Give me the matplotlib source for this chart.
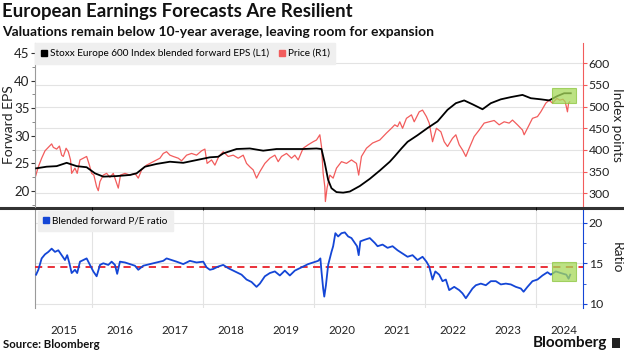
import matplotlib
matplotlib.use("Agg")
import matplotlib.pyplot as plt
from matplotlib.patches import Rectangle
from matplotlib.lines import Line2D
from matplotlib.ticker import MultipleLocator, FixedLocator, NullFormatter

plt.rcParams['font.family'] = ['Lato', 'DejaVu Sans']

# ---------------- data (decimal years) ----------------
eps_t = [2015.00, 2015.19, 2015.37, 2015.55, 2015.73, 2015.91, 2016.06, 2016.21, 2016.45, 2016.69,
         2016.81, 2016.96, 2017.17, 2017.41, 2017.65, 2017.89, 2018.13, 2018.28, 2018.37, 2018.61,
         2018.85, 2019.09, 2019.33, 2019.57, 2019.81, 2020.05, 2020.14, 2020.20, 2020.26, 2020.32,
         2020.41, 2020.53, 2020.65, 2020.83, 2021.01, 2021.19, 2021.37, 2021.46, 2021.58, 2021.69,
         2021.87, 2022.05, 2022.23, 2022.41, 2022.56, 2022.71, 2022.86, 2023.04, 2023.19, 2023.37,
         2023.55, 2023.76, 2023.91, 2024.09, 2024.24, 2024.39, 2024.51, 2024.63]
eps_v = [24.1, 24.4, 24.5, 25.1, 24.5, 24.3, 23.2, 22.6, 22.7, 22.9,
         23.2, 24.4, 24.9, 25.3, 25.1, 25.6, 26.1, 26.2, 26.8, 27.6,
         27.7, 27.3, 27.6, 27.6, 27.6, 27.7, 27.6, 25.0, 22.0, 20.5,
         19.8, 19.7, 19.9, 20.9, 22.2, 23.7, 25.3, 26.3, 27.7, 28.9,
         30.1, 31.4, 32.6, 34.7, 35.9, 36.4, 35.7, 34.8, 35.9, 36.6,
         37.0, 37.4, 36.8, 36.6, 36.4, 37.2, 37.7, 37.7]

price_t = [2014.98, 2015.04, 2015.10, 2015.16, 2015.22, 2015.28, 2015.31, 2015.37, 2015.42, 2015.46,
           2015.49, 2015.54, 2015.58, 2015.62, 2015.64, 2015.70, 2015.74, 2015.79, 2015.85, 2015.91,
           2015.96, 2016.00, 2016.04, 2016.09, 2016.12, 2016.15, 2016.21, 2016.27, 2016.33, 2016.39,
           2016.44, 2016.48, 2016.52, 2016.60, 2016.69, 2016.78, 2016.84, 2016.90, 2016.99, 2017.11,
           2017.23, 2017.29, 2017.35, 2017.41, 2017.47, 2017.56, 2017.62, 2017.71, 2017.80, 2017.89,
           2017.98, 2018.04, 2018.08, 2018.16, 2018.22, 2018.29, 2018.37, 2018.46, 2018.55, 2018.64,
           2018.73, 2018.79, 2018.85, 2018.91, 2018.97, 2019.03, 2019.12, 2019.21, 2019.30, 2019.36,
           2019.42, 2019.51, 2019.60, 2019.66, 2019.72, 2019.81, 2019.90, 2019.99, 2020.05, 2020.11,
           2020.14, 2020.17, 2020.20, 2020.21, 2020.24, 2020.29, 2020.35, 2020.41, 2020.50, 2020.59,
           2020.68, 2020.77, 2020.81, 2020.86, 2020.95, 2021.06, 2021.19, 2021.31, 2021.40, 2021.46,
           2021.51, 2021.55, 2021.60, 2021.67, 2021.76, 2021.81, 2021.90, 2021.96, 2022.03, 2022.08,
           2022.14, 2022.21, 2022.29, 2022.35, 2022.41, 2022.50, 2022.56, 2022.62, 2022.68, 2022.74,
           2022.80, 2022.89, 2022.98, 2023.07, 2023.16, 2023.25, 2023.34, 2023.43, 2023.52, 2023.58,
           2023.67, 2023.76, 2023.79, 2023.85, 2023.94, 2024.03, 2024.09, 2024.18, 2024.24, 2024.30,
           2024.38, 2024.43, 2024.49, 2024.53, 2024.57, 2024.59, 2024.61]
price_v = [335, 361, 381, 398, 406, 414, 406, 402, 409, 388,
           385, 404, 396, 377, 346, 358, 346, 377, 381, 385,
           365, 346, 342, 315, 306, 327, 342, 346, 337, 346,
           327, 312, 342, 346, 342, 346, 335, 354, 365, 373,
           381, 392, 396, 388, 385, 381, 375, 388, 392, 388,
           398, 402, 369, 377, 365, 385, 396, 385, 388, 381,
           388, 369, 361, 354, 335, 350, 369, 381, 388, 373,
           385, 392, 381, 388, 377, 404, 412, 419, 423, 435,
           408, 346, 315, 281, 312, 342, 335, 358, 373, 369,
           377, 369, 342, 385, 404, 416, 423, 439, 450, 458,
           454, 465, 450, 473, 481, 465, 488, 492, 477, 462,
           419, 450, 442, 419, 408, 427, 435, 412, 400, 385,
           404, 431, 446, 462, 465, 468, 458, 465, 462, 469,
           458, 446, 435, 450, 473, 477, 488, 508, 515, 508,
           519, 515, 517, 511, 488, 508, 511]

pe_t = [2015.00, 2015.04, 2015.10, 2015.16, 2015.22, 2015.28, 2015.34, 2015.40, 2015.46, 2015.52,
        2015.56, 2015.60, 2015.64, 2015.70, 2015.74, 2015.79, 2015.85, 2015.91, 2015.97, 2016.03,
        2016.09, 2016.15, 2016.21, 2016.30, 2016.36, 2016.42, 2016.46, 2016.51, 2016.60, 2016.69,
        2016.78, 2016.84, 2016.93, 2017.05, 2017.17, 2017.29, 2017.35, 2017.44, 2017.53, 2017.65,
        2017.77, 2017.89, 2018.01, 2018.07, 2018.13, 2018.19, 2018.28, 2018.37, 2018.46, 2018.58,
        2018.70, 2018.79, 2018.88, 2018.97, 2019.03, 2019.12, 2019.21, 2019.30, 2019.39, 2019.48,
        2019.57, 2019.66, 2019.75, 2019.81, 2019.90, 2019.99, 2020.08, 2020.12, 2020.14, 2020.17,
        2020.19, 2020.22, 2020.26, 2020.32, 2020.35, 2020.39, 2020.44, 2020.50, 2020.56, 2020.62,
        2020.68, 2020.74, 2020.78, 2020.81, 2020.84, 2020.92, 2021.01, 2021.10, 2021.15, 2021.24,
        2021.33, 2021.42, 2021.51, 2021.60, 2021.69, 2021.78, 2021.87, 2021.96, 2022.03, 2022.08,
        2022.14, 2022.19, 2022.26, 2022.32, 2022.38, 2022.44, 2022.53, 2022.62, 2022.68, 2022.74,
        2022.80, 2022.86, 2022.92, 2023.01, 2023.10, 2023.19, 2023.28, 2023.37, 2023.46, 2023.55,
        2023.64, 2023.73, 2023.78, 2023.85, 2023.94, 2024.03, 2024.12, 2024.21, 2024.27, 2024.36,
        2024.45, 2024.55, 2024.59, 2024.62]
pe_v = [13.6, 14.2, 15.6, 16.1, 16.4, 16.8, 16.4, 16.6, 16.0, 15.4,
        16.0, 15.0, 13.8, 14.2, 13.8, 15.2, 15.4, 15.6, 14.8, 14.0,
        13.4, 14.8, 15.0, 14.8, 15.2, 14.8, 13.7, 15.2, 15.1, 14.9,
        14.7, 14.2, 14.7, 14.9, 15.1, 15.3, 15.6, 15.4, 15.2, 14.9,
        15.3, 15.1, 15.2, 14.5, 14.2, 14.3, 14.6, 14.8, 14.4, 14.0,
        13.6, 13.0, 12.7, 12.1, 12.5, 13.4, 13.8, 14.0, 13.5, 14.1,
        13.5, 14.1, 14.4, 14.6, 14.9, 15.1, 15.3, 15.6, 14.0, 11.9,
        10.9, 12.3, 14.8, 16.4, 17.1, 18.7, 18.3, 18.7, 18.8, 18.3,
        18.1, 17.5, 17.1, 16.0, 17.7, 17.9, 18.1, 17.5, 17.1, 17.3,
        16.9, 17.1, 16.6, 16.2, 15.8, 16.0, 15.4, 15.8, 15.2, 14.6,
        13.0, 14.0, 13.6, 12.8, 13.0, 11.7, 12.1, 11.7, 11.3, 10.7,
        11.3, 11.9, 12.3, 12.5, 12.3, 12.8, 12.8, 12.4, 12.5, 12.4,
        12.1, 11.9, 11.5, 12.1, 12.8, 13.0, 13.5, 13.9, 13.6, 14.0,
        13.8, 13.6, 13.1, 13.6]

pe_avg = 14.5
year_labels = [str(y) for y in range(2015, 2025)]
eps_ticks = [20, 25, 30, 35, 40, 45]
price_ticks = [300, 350, 400, 450, 500, 550, 600]
pe_ticks = [10, 15, 20]
# highlight boxes (x range in years, y ranges in axis units)
hl_t = (2024.29, 2024.72)
hl_eps = (35.9, 38.7)
hl_pe = (12.83, 15.13)

# ---------------- colours ----------------
C_RED = '#f25c5c'
C_BLUE = '#1446d6'
C_BLACK = '#000000'
C_GRID = '#e3e3e3'
C_LEG = '#efefef'
C_GREEN = '#a6d95a'

W, H = 624, 351
fig = plt.figure(figsize=(W / 100, H / 100), dpi=100)
fig.patch.set_facecolor('white')

def fx(px):
    return px / W

def fy(py):
    return 1 - py / H

XMIN, XMAX = 2014.98, 2024.85
ax_l, ax_r = 35, 583
AXW = ax_r - ax_l
ax1 = fig.add_axes([fx(ax_l), fy(207), fx(AXW), (207 - 43) / H])
ax1r = ax1.twinx()
ax2 = fig.add_axes([fx(ax_l), fy(308), fx(AXW), (308 - 208) / H])

ax1r.set_zorder(1)
ax1.set_zorder(2)
ax1.patch.set_visible(False)

for a in (ax1, ax1r, ax2):
    a.set_xlim(XMIN, XMAX)

ax1.set_ylim(17.1, 46.8)
ax1r.set_ylim(268.4, 646.8)
ax2.set_ylim(9.5, 21.8)

grid_years = [2016, 2018, 2020, 2022, 2024]
for a in (ax1r, ax2):
    a.xaxis.set_minor_locator(FixedLocator(grid_years))
    a.grid(True, which='minor', axis='x', color=C_GRID, lw=0.8)
    a.set_axisbelow(True)
ax1r.yaxis.set_major_locator(FixedLocator(price_ticks))
ax1r.grid(True, which='major', axis='y', color=C_GRID, lw=0.8)
ax2.yaxis.set_major_locator(FixedLocator(pe_ticks))
ax2.grid(True, which='major', axis='y', color=C_GRID, lw=0.8)

ax1r.plot(price_t, price_v, color=C_RED, lw=0.9, zorder=3)
ax1.plot(eps_t, eps_v, color=C_BLACK, lw=1.3, zorder=4)
ax2.plot(pe_t, pe_v, color=C_BLUE, lw=1.3, zorder=4)
ax2.axhline(pe_avg, color='#e8202a', lw=1.3, ls=(0, (4, 3)), zorder=3)

ax1.add_patch(Rectangle((hl_t[0], hl_eps[0]), hl_t[1] - hl_t[0], hl_eps[1] - hl_eps[0],
                        facecolor=C_GREEN, alpha=0.75, edgecolor='#8cc63f', lw=0.8, zorder=5))
ax2.add_patch(Rectangle((hl_t[0], hl_pe[0]), hl_t[1] - hl_t[0], hl_pe[1] - hl_pe[0],
                        facecolor=C_GREEN, alpha=0.75, edgecolor='#8cc63f', lw=0.8, zorder=5))

for a in (ax1, ax1r, ax2):
    a.spines['top'].set_visible(False)
    a.spines['bottom'].set_visible(False)
ax1r.spines['left'].set_visible(False)
ax1.spines['right'].set_visible(False)
ax1.spines['left'].set_color('#9a9a9a')
ax1r.spines['right'].set_color(C_RED)
ax2.spines['left'].set_color('#9a9a9a')
ax2.spines['right'].set_color(C_BLUE)

ax1.yaxis.set_major_locator(FixedLocator(eps_ticks))
ax1.yaxis.set_minor_locator(MultipleLocator(2.5))
ax1.yaxis.set_minor_formatter(NullFormatter())
ax1.tick_params(axis='y', which='major', length=3, width=0.8, color='#333333',
                labelsize=9.5, labelcolor='#222222', pad=1)
ax1.tick_params(axis='y', which='minor', length=2, width=0.6, color='#777777')
ax1r.tick_params(axis='y', which='major', length=3, width=0.8, color=C_RED,
                 labelsize=8.8, labelcolor='#222222', pad=1)
ax2.yaxis.tick_right()
ax2.yaxis.set_label_position('right')
ax2.yaxis.set_minor_locator(MultipleLocator(2.5))
ax2.yaxis.set_minor_formatter(NullFormatter())
ax2.tick_params(axis='y', which='major', length=3, width=0.8, color=C_BLUE,
                labelsize=8.8, labelcolor='#222222', pad=1)
ax2.tick_params(axis='y', which='minor', length=2, width=0.6, color=C_BLUE)
ax2.spines['right'].set_visible(True)

ax1.set_xticks([])
ax1r.tick_params(axis='x', which='both', length=0, labelbottom=False)
ax2.set_xticks([int(s) + 0.5 for s in year_labels])
ax2.set_xticklabels(year_labels)
ax2.tick_params(axis='x', which='both', length=0, labelsize=8.3, labelcolor='#222222', pad=12.5)

ax1.set_ylabel('Forward EPS', fontsize=10, color='#222222', va='center')
ax1.yaxis.set_label_coords((9 - ax_l) / AXW, 0.5)
ax1r.set_ylabel('Index points', fontsize=9.8, color='#222222', rotation=270, va='center')
ax1r.yaxis.set_label_coords((617 - ax_l) / AXW, 0.5)
ax2.set_ylabel('Ratio', fontsize=9.8, color='#222222', rotation=270, va='center')
ax2.yaxis.set_label_coords((617 - ax_l) / AXW, 0.5)

leg1 = ax1.legend(handles=[Line2D([], [], marker='s', ls='', color=C_BLACK, ms=4.5),
                           Line2D([], [], marker='s', ls='', color=C_RED, ms=4.5)],
                  labels=['Stoxx Europe 600 Index blended forward EPS (L1)', 'Price (R1)'],
                  loc='upper left', ncol=2, fontsize=7.2, frameon=True, fancybox=False,
                  facecolor=C_LEG, edgecolor=C_LEG, framealpha=1, handlelength=0.6,
                  handletextpad=0.3, columnspacing=1.0, borderpad=0.55, borderaxespad=0)
leg1.set_zorder(10)
leg2 = ax2.legend(handles=[Line2D([], [], marker='s', ls='', color=C_BLUE, ms=4.5)],
                  labels=['Blended forward P/E ratio'],
                  loc='upper left', fontsize=7.2, frameon=True, fancybox=False,
                  facecolor=C_LEG, edgecolor=C_LEG, framealpha=1, handlelength=0.6,
                  handletextpad=0.3, borderpad=0.55, borderaxespad=0.25)
leg2.set_zorder(10)

fig.add_artist(Line2D([0, 1], [fy(207.5), fy(207.5)], color='#333333', lw=2.2,
                      transform=fig.transFigure))

fig.text(fx(2), fy(12), 'European Earnings Forecasts Are Resilient', fontsize=13.4,
         fontweight='bold', va='center', ha='left', color='#111111')
fig.text(fx(2), fy(32), 'Valuations remain below 10-year average, leaving room for expansion',
         fontsize=10, fontweight='bold', va='center', ha='left', color='#111111')
fig.text(fx(3), fy(344), 'Source: Bloomberg', fontsize=8.2, fontweight='bold',
         va='center', ha='left', color='#111111')
fig.text(fx(607), fy(343), 'Bloomberg', fontsize=11, fontweight='bold',
         va='center', ha='right', color='#111111')
fig.add_artist(Rectangle((fx(612), fy(348)), fx(8), 10 / H, transform=fig.transFigure,
                         facecolor='#222222', edgecolor='none'))

fig.savefig('out.png', dpi=100)
